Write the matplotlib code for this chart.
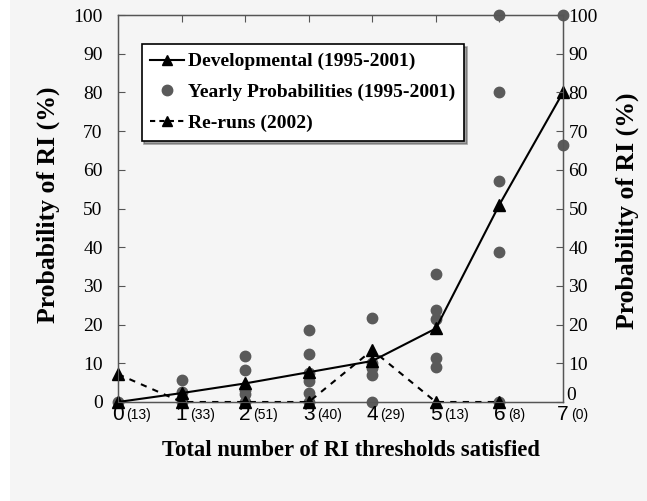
import matplotlib
matplotlib.use("Agg")
import matplotlib.pyplot as plt
from matplotlib.patches import Rectangle
from matplotlib.lines import Line2D

# ---- data ----
thresholds = [0, 1, 2, 3, 4, 5, 6, 7]
counts = [13, 33, 51, 40, 29, 13, 8, 0]
developmental = [0, 2.3, 4.8, 7.7, 10.6, 19.0, 51.0, 80.0]
rerun_x = [0, 1, 2, 3, 4, 5, 6]
reruns = [7.2, 0, 0, 0, 13.4, 0, 0]
yearly_x = [0, 1, 1, 1,
            2, 2, 2, 2, 2,
            3, 3, 3, 3, 3, 3,
            4, 4, 4, 4, 4,
            5, 5, 5, 5, 5,
            6, 6, 6, 6, 6,
            7, 7]
yearly_y = [0, 5.7, 2.5, 0,
            11.9, 8.3, 3.1, 2.0, 0,
            18.6, 12.4, 7.5, 5.3, 2.3, 0,
            21.6, 10.0, 8.7, 7.0, 0,
            33.1, 23.8, 21.4, 11.3, 9.1,
            100, 80, 57.1, 38.7, 0,
            100, 66.4]
yticks = [0, 10, 20, 30, 40, 50, 60, 70, 80, 90, 100]

serif = ["Liberation Serif", "DejaVu Serif"]
sans = ["Liberation Sans", "DejaVu Sans"]

fig = plt.figure(figsize=(6.47, 5.01), dpi=100, facecolor="white")
fig.patches.append(Rectangle((10 / 647, 0), 1, 1, transform=fig.transFigure,
                             facecolor="#f5f5f5", edgecolor="none", zorder=-10))

ax = fig.add_axes([118 / 647, 1 - 402 / 501, 445 / 647, 387 / 501])
ax.set_facecolor("#f5f5f5")
ax.set_xlim(0, 7)
ax.set_ylim(0, 100)

ax.plot(yearly_x, yearly_y, "o", color="#5a5a5a", markersize=7.5,
        clip_on=False, zorder=3, linestyle="none")
ax.plot(thresholds, developmental, "-^", color="black", lw=1.5,
        markersize=8.5, clip_on=False, zorder=4)
ax.plot(rerun_x, reruns, "--^", color="black", lw=1.5, dashes=(3, 3),
        markersize=8.5, clip_on=False, zorder=4)

for s in ax.spines.values():
    s.set_color("#555555")
    s.set_linewidth(1.0)

ax.set_xticks(thresholds[1:-1])
ax.tick_params(axis="x", top=True, bottom=False, direction="in",
               labelbottom=False, length=5, color="#555555")
ax.set_yticks(yticks)
ax.tick_params(axis="y", direction="in", length=5, color="#555555",
               pad=11, labelsize=14)
for lab in ax.get_yticklabels():
    lab.set_family(serif)

ax2 = ax.twinx()
ax2.set_ylim(0, 100)
ax2.set_yticks(yticks)
ax2.set_yticklabels([""] + [str(v) for v in yticks[1:]])
ax2.tick_params(axis="y", direction="in", length=5, color="#555555",
                pad=4, labelsize=14)
for lab in ax2.get_yticklabels():
    lab.set_family(serif)
for s in ax2.spines.values():
    s.set_color("#555555")
# right-hand "0" label sits just above the axis corner
ax2.annotate(str(yticks[0]), xy=(1, yticks[0]), xycoords=("axes fraction", "data"),
             xytext=(2, -1.5), textcoords="offset points", ha="left", va="bottom",
             fontsize=14, family=serif, annotation_clip=False)

# x tick labels (large digit + small count)
for t, c in zip(thresholds, counts):
    ax.annotate(str(t), xy=(t, 0), xycoords="data", xytext=(0, -2),
                textcoords="offset points", ha="center", va="top",
                fontsize=15, family=sans, annotation_clip=False)
    ax.annotate(f"({c})", xy=(t, 0), xycoords="data", xytext=(6, -4.5),
                textcoords="offset points", ha="left", va="top",
                fontsize=10, family=sans, annotation_clip=False)

fig.text(351 / 647, 1 - 450 / 501, "Total number of RI thresholds satisfied",
         ha="center", va="center", fontsize=16.3, fontweight="bold", family=serif)
fig.text(48 / 647, 1 - 205 / 501, "Probability of RI (%)", rotation=90,
         ha="center", va="center", fontsize=18.5, fontweight="bold", family=serif)
fig.text(627 / 647, 1 - 211 / 501, "Probability of RI (%)", rotation=90,
         ha="center", va="center", fontsize=18.5, fontweight="bold", family=serif)

handles = [
    Line2D([], [], color="black", lw=1.5, marker="^", markersize=7),
    Line2D([], [], color="#5a5a5a", lw=0, marker="o", markersize=7.5),
    Line2D([], [], color="black", lw=1.5, ls="--", dashes=(2.5, 2), marker="^", markersize=7),
]
labels = ["Developmental (1995-2001)", "Yearly Probabilities (1995-2001)", "Re-runs (2002)"]
leg = ax.legend(handles, labels, loc="upper left", bbox_to_anchor=(0.053, 0.925),
                borderaxespad=0, frameon=True, fancybox=False, shadow=True,
                edgecolor="black", facecolor="white", framealpha=1,
                prop={"family": serif, "weight": "bold", "size": 14},
                handlelength=1.75, handletextpad=0.2, labelspacing=0.68,
                borderpad=0.45)
leg.get_frame().set_linewidth(1.2)
leg.set_zorder(10)

fig.savefig("out.png", dpi=100, facecolor=fig.get_facecolor())
